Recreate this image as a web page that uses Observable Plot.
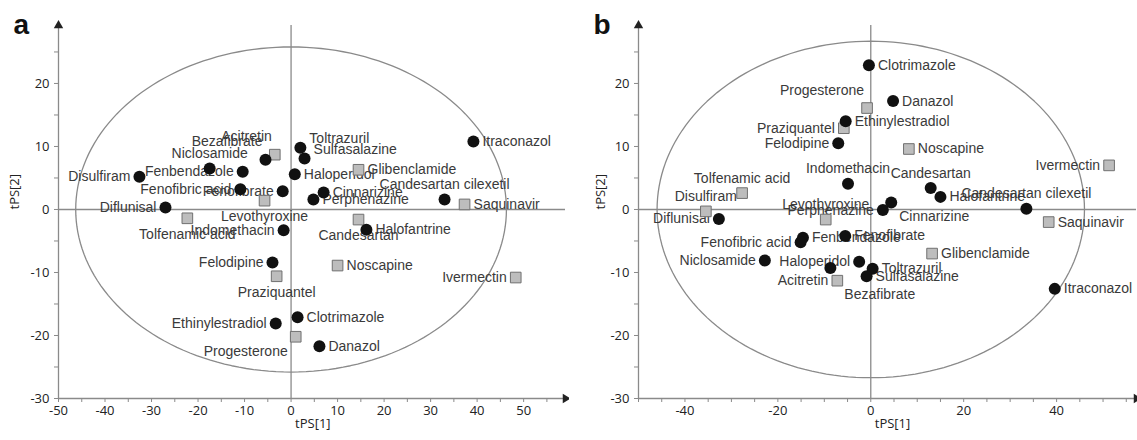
<!DOCTYPE html>
<html><head><meta charset="utf-8">
<script src="https://cdn.jsdelivr.net/npm/d3@7"></script>
<script src="https://cdn.jsdelivr.net/npm/@observablehq/plot@0.6"></script>
<style>
html,body{margin:0;padding:0;background:#fff;}
#wrap{display:flex;width:1137px;height:440px;overflow:hidden;}
#wrap svg{display:block;flex:none;}
</style></head><body><div id="wrap"></div>
<script>
// ---------- Panel a ----------
const namesA = ["Disulfiram","Diflunisal","Niclosamide","Fenbendazole","Bezafibrate","Acitretin","Fenofibric acid","Fenofibrate","Levothyroxine","Tolfenamic acid","Toltrazuril","Sulfasalazine","Haloperidol","Cinnarizine","Perphenazine","Glibenclamide","Candesartan cilexetil","Itraconazol","Saquinavir","Indomethacin","Candesartan","Halofantrine","Felodipine","Praziquantel","Noscapine","Ivermectin","Ethinylestradiol","Clotrimazole","Progesterone","Danazol"];
const xA = [-32.6,-27.0,-17.5,-10.4,-5.5,-3.5,-10.9,-1.8,-5.7,-22.3,2.0,2.9,0.8,7.0,4.8,14.5,33.0,39.2,37.3,-1.6,14.5,16.2,-4.0,-3.1,10.0,48.3,-3.3,1.4,1.0,6.1];
const yA = [5.2,0.3,6.5,6.0,7.9,8.7,3.2,2.9,1.4,-1.4,9.8,8.1,5.6,2.7,1.6,6.3,1.6,10.8,0.8,-3.3,-1.6,-3.2,-8.4,-10.6,-8.9,-10.8,-18.1,-17.1,-20.2,-21.7];
const kindA = ["c","c","c","c","c","s","c","c","s","s","c","c","c","c","c","s","c","c","s","c","s","c","c","s","s","s","c","c","s","c"];
const placeA = ["l","l","t","l","tl","tl","l","l","b","b","tr","tr","r","r","r","r","t","r","r","l","b","r","l","b","r","l","l","r","bl","r"];
const ellipseA = [46.3, 25.8];
const xLabelsA = [-50,-40,-30,-20,-10,0,10,20,30,40,50];
const xMinorA = [-50,-45,-40,-35,-30,-25,-20,-15,-10,-5,0,5,10,15,20,25,30,35,40,45,50,55];

// ---------- Panel b ----------
const namesB = ["Clotrimazole","Danazol","Progesterone","Ethinylestradiol","Praziquantel","Felodipine","Noscapine","Ivermectin","Indomethacin","Candesartan","Halofantrine","Candesartan cilexetil","Tolfenamic acid","Disulfiram","Diflunisal","Cinnarizine","Perphenazine","Levothyroxine","Fenbendazole","Fenofibric acid","Fenofibrate","Niclosamide","Haloperidol","Bezafibrate","Toltrazuril","Sulfasalazine","Acitretin","Glibenclamide","Saquinavir","Itraconazol"];
const xB = [-0.4,4.8,-0.8,-5.4,-5.8,-7.0,8.2,51.3,-4.9,12.9,15.0,33.5,-27.7,-35.5,-32.7,4.4,2.6,-9.7,-14.6,-15.1,-5.5,-22.8,-2.5,-8.7,0.4,-0.9,-7.2,13.2,38.3,39.6];
const yB = [22.9,17.2,16.1,14.0,12.9,10.5,9.6,7.0,4.1,3.4,2.0,0.1,2.6,-0.3,-1.5,1.1,-0.1,-1.6,-4.5,-5.2,-4.2,-8.1,-8.3,-9.3,-9.4,-10.6,-11.3,-7.0,-2.0,-12.6];
const kindB = ["c","c","s","c","s","c","s","s","c","c","c","c","s","s","c","c","c","s","c","c","c","c","c","c","c","c","s","s","s","c"];
const placeB = ["r","r","tl","r","l","l","r","l","t","t","r","t","t","t","l","br","l","t","r","l","r","l","l","br2","r","r","l","r","r","r"];
const ellipseB = [46.0, 26.7];
const xLabelsB = [-40,-20,0,20,40];
const xMinorB = [-50,-45,-40,-35,-30,-25,-20,-15,-10,-5,0,5,10,15,20,25,30,35,40,45,50,55];

// shared y axis
const yLabels = [-30,-20,-10,0,10,20];
const yMinor = [-30,-25,-20,-15,-10,-5,0,5,10,15,20,25];

const placeStyle = {
  r:   {textAnchor: "start",  dx: 9,  dy: 0},
  l:   {textAnchor: "end",    dx: -9, dy: 0},
  t:   {textAnchor: "middle", dx: 0,  dy: -15},
  b:   {textAnchor: "middle", dx: 0,  dy: 16},
  tl:  {textAnchor: "end",    dx: -3, dy: -18},
  tr:  {textAnchor: "start",  dx: 9,  dy: -9},
  bl:  {textAnchor: "end",    dx: -8, dy: 15},
  br:  {textAnchor: "start",  dx: 8,  dy: 14},
  br2: {textAnchor: "start",  dx: 14, dy: 26}
};

const gray = "#8a8a8a";
const labelFont = "'Liberation Sans', Arial, sans-serif";

function panel(cfg) {
  const rows = cfg.names.map((n, i) => ({name: n, x: cfg.xs[i], y: cfg.ys[i], kind: cfg.kinds[i], place: cfg.places[i]}));
  const ell = d3.range(0, 361, 2).map(a => ({x: cfg.ellipse[0] * Math.cos(a * Math.PI / 180), y: cfg.ellipse[1] * Math.sin(a * Math.PI / 180)}));
  const [x0, x1] = cfg.xDomain;
  const yDomain = [-30, 29.2];
  const labelMarks = Object.entries(placeStyle).map(([code, st]) =>
    Plot.text(rows.filter(d => d.place === code), {
      x: "x", y: "y", text: "name", ...st,
      fontSize: 14, fontFamily: labelFont, fill: "#3a3a3a"
    }));
  return Plot.plot({
    width: cfg.width, height: 440,
    marginLeft: cfg.marginLeft, marginRight: cfg.marginRight, marginTop: 25, marginBottom: 42,
    x: {domain: cfg.xDomain, axis: null, label: null},
    y: {domain: yDomain, axis: null, label: null},
    style: {fontFamily: "'Open Sans', sans-serif", fontSize: "13px", color: "#222", background: "#fff"},
    marks: [
      Plot.line(ell, {x: "x", y: "y", stroke: gray, strokeWidth: 1.3}),
      Plot.ruleX([0], {stroke: gray, strokeWidth: 1.3}),
      Plot.ruleY([0], {stroke: gray, strokeWidth: 1.3}),
      Plot.ruleX([x0], {stroke: gray, strokeWidth: 1.3}),
      Plot.ruleY([-30], {stroke: gray, strokeWidth: 1.3}),
      Plot.dot([0], {x: () => x0, y: () => yDomain[1], symbol: "triangle", r: 3.5, fill: "#222", stroke: "none"}),
      Plot.dot([0], {x: () => x1, y: () => -30, symbol: "triangle", rotate: 90, r: 3.5, fill: "#222", stroke: "none"}),
      Plot.axisX({ticks: cfg.xMinor, label: null, tickFormat: d => cfg.xLabels.includes(d) ? String(d) : "", tickSize: 4, tickPadding: 3, stroke: gray, fill: "#222"}),
      Plot.axisY({ticks: yMinor, label: null, tickFormat: d => yLabels.includes(d) ? String(d) : "", tickSize: 4, tickPadding: 5, stroke: gray, fill: "#222"}),
      Plot.text(["tPS[1]"], {x: () => 0, frameAnchor: "bottom", textAnchor: "start", dx: 4, dy: 29, text: d => d, fill: "#222"}),
      Plot.text(["tPS[2]"], {y: () => 0, frameAnchor: "left", rotate: -90, dx: cfg.ylabDx, text: d => d, fill: "#222"}),
      Plot.text([cfg.letter], {frameAnchor: "top-left", textAnchor: "start", lineAnchor: "top", dx: -45, dy: -11, text: d => d, fontSize: 28, fontWeight: "bold", fontFamily: labelFont, fill: "#111"}),
      ...labelMarks,
      Plot.dot(rows.filter(d => d.kind === "s"), {x: "x", y: "y", symbol: "square", r: 6, fill: "#bdbdbd", stroke: "#707070", strokeWidth: 1}),
      Plot.dot(rows.filter(d => d.kind === "c"), {x: "x", y: "y", r: 6, fill: "#111", stroke: "none"})
    ]
  });
}

const wrap = document.getElementById("wrap");
wrap.appendChild(panel({
  names: namesA, xs: xA, ys: yA, kinds: kindA, places: placeA, ellipse: ellipseA,
  xDomain: [-50, 59], width: 569, marginLeft: 58, marginRight: 4,
  xLabels: xLabelsA, xMinor: xMinorA, letter: "a", ylabDx: -44
}));
wrap.appendChild(panel({
  names: namesB, xs: xB, ys: yB, kinds: kindB, places: placeB, ellipse: ellipseB,
  xDomain: [-50, 57.2], width: 568, marginLeft: 69, marginRight: 1,
  xLabels: xLabelsB, xMinor: xMinorB, letter: "b", ylabDx: -38
}));
</script></body></html>
